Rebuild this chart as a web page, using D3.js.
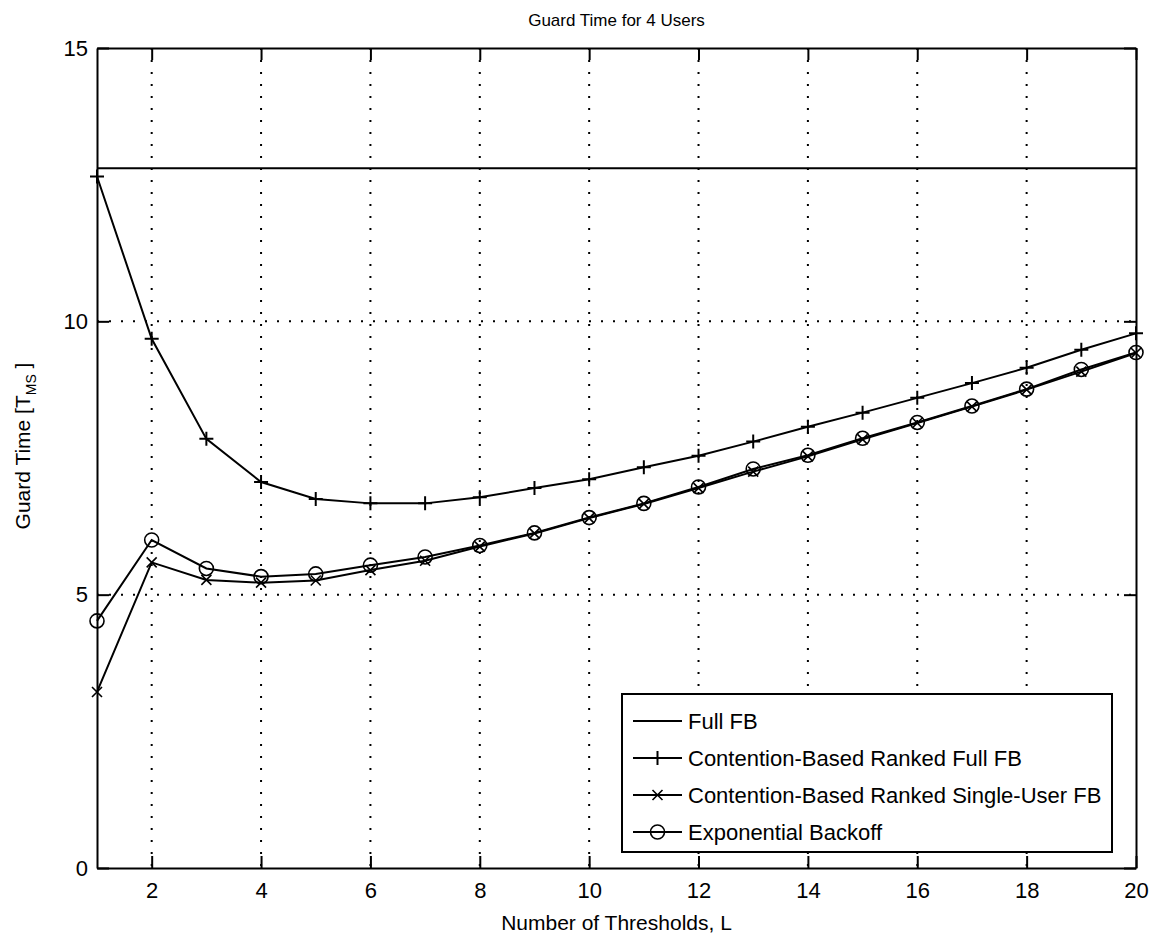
<!DOCTYPE html>
<html>
<head>
<meta charset="utf-8">
<script src="https://cdn.jsdelivr.net/npm/d3@7"></script>
<style>
  body { margin: 0; background: #fff; }
  text { font-family: 'Liberation Sans', Arial, sans-serif; fill: #000; }
</style>
</head>
<body>
<svg id="chart"></svg>
<script>
(function () {
  var width = 1151; var height = 942

  // data
  var thresholds = [1, 2, 3, 4, 5, 6, 7, 8, 9, 10, 11, 12, 13, 14, 15, 16, 17, 18, 19, 20]
  var fullFB = 12.8
  var rankedFullFB = [12.65, 9.68, 7.85, 7.06, 6.75, 6.67, 6.67, 6.78, 6.95, 7.11,
    7.33, 7.54, 7.80, 8.07, 8.33, 8.60, 8.87, 9.15, 9.48, 9.78]
  var rankedSingleFB = [3.22, 5.59, 5.27, 5.22, 5.26, 5.45, 5.62, 5.88, 6.12, 6.40,
    6.66, 6.95, 7.25, 7.53, 7.84, 8.14, 8.44, 8.75, 9.08, 9.42]
  var expBackoff = [4.52, 6.0, 5.48, 5.33, 5.38, 5.54, 5.69, 5.90, 6.13, 6.41,
    6.67, 6.97, 7.30, 7.55, 7.86, 8.15, 8.45, 8.76, 9.12, 9.43]
  var xTicks = [2, 4, 6, 8, 10, 12, 14, 16, 18, 20]
  var yTicks = [0, 5, 10, 15]
  var seriesNames = ['Full FB', 'Contention-Based Ranked Full FB',
    'Contention-Based Ranked Single-User FB', 'Exponential Backoff']

  var left = 97; var right = 1136; var top = 48; var bottom = 868

  var svg = d3.select('#chart')
    .attr('width', width)
    .attr('height', height)

  var xScale = d3.scaleLinear().domain([1, 20]).range([left, right])
  var yScale = d3.scaleLinear().domain([0, 15]).range([bottom, top])

  // dotted grid
  var grid = svg.append('g')
  grid.selectAll('.gx')
    .data(xTicks.filter(d => d < 20))
    .enter().append('line')
    .attr('x1', d => xScale(d)).attr('x2', d => xScale(d))
    .attr('y1', top).attr('y2', bottom)
  grid.selectAll('.gy')
    .data(yTicks.filter(d => d > 0 && d < 15))
    .enter().append('line')
    .attr('x1', left).attr('x2', right)
    .attr('y1', d => yScale(d)).attr('y2', d => yScale(d))
  grid.selectAll('line')
    .attr('stroke', '#000')
    .attr('stroke-width', 2)
    .attr('stroke-dasharray', '2,10')

  // axes, MATLAB style box with inward ticks
  var tick = 12
  svg.append('g')
    .attr('transform', 'translate(0,' + bottom + ')')
    .call(d3.axisBottom(xScale).tickValues(xTicks).tickSizeInner(-tick).tickSizeOuter(0).tickPadding(14))
  svg.append('g')
    .attr('transform', 'translate(0,' + top + ')')
    .call(d3.axisTop(xScale).tickValues(xTicks).tickSizeInner(-tick).tickSizeOuter(0).tickFormat(''))
  svg.append('g')
    .attr('transform', 'translate(' + left + ',0)')
    .call(d3.axisLeft(yScale).tickValues(yTicks).tickSizeInner(-tick).tickSizeOuter(0).tickPadding(9))
  svg.append('g')
    .attr('transform', 'translate(' + right + ',0)')
    .call(d3.axisRight(yScale).tickValues(yTicks).tickSizeInner(-tick).tickSizeOuter(0).tickFormat(''))
  svg.selectAll('.domain').attr('stroke', '#000').attr('stroke-width', 2)
  svg.selectAll('.tick line').attr('stroke', '#000').attr('stroke-width', 2)
  svg.selectAll('.tick text')
    .style('font-family', "'Liberation Sans', Arial, sans-serif")
    .style('font-size', '22px')
    .attr('fill', '#000')

  var line = d3.line()
    .x((d, i) => xScale(thresholds[i]))
    .y(d => yScale(d))

  var plot = svg.append('g')

  // Full FB horizontal line
  plot.append('line')
    .attr('x1', xScale(1)).attr('x2', xScale(20))
    .attr('y1', yScale(fullFB)).attr('y2', yScale(fullFB))
    .attr('stroke', '#000').attr('stroke-width', 2)

  function drawMarker (g, kind, x, y) {
    if (kind === 'plus') {
      g.append('path')
        .attr('d', 'M' + (x - 7) + ',' + y + 'H' + (x + 7) + 'M' + x + ',' + (y - 7) + 'V' + (y + 7))
        .attr('stroke', '#000').attr('stroke-width', 2).attr('fill', 'none')
    } else if (kind === 'cross') {
      g.append('path')
        .attr('d', 'M' + (x - 5) + ',' + (y - 5) + 'L' + (x + 5) + ',' + (y + 5) +
          'M' + (x - 5) + ',' + (y + 5) + 'L' + (x + 5) + ',' + (y - 5))
        .attr('stroke', '#000').attr('stroke-width', 1.6).attr('fill', 'none')
    } else if (kind === 'circle') {
      g.append('circle')
        .attr('cx', x).attr('cy', y).attr('r', 7)
        .attr('stroke', '#000').attr('stroke-width', 1.6).attr('fill', 'none')
    }
  }

  var series = [
    { values: rankedFullFB, marker: 'plus' },
    { values: rankedSingleFB, marker: 'cross' },
    { values: expBackoff, marker: 'circle' }
  ]

  series.forEach(s => {
    plot.append('path')
      .datum(s.values)
      .attr('d', line)
      .attr('fill', 'none')
      .attr('stroke', '#000')
      .attr('stroke-width', 2)
    s.values.forEach((v, i) => {
      drawMarker(plot, s.marker, xScale(thresholds[i]), yScale(v))
    })
  })

  // legend
  var lg = svg.append('g')
  lg.append('rect')
    .attr('x', 622).attr('y', 694)
    .attr('width', 490).attr('height', 158)
    .attr('fill', '#fff').attr('stroke', '#000').attr('stroke-width', 2)
  var markers = ['none', 'plus', 'cross', 'circle']
  seriesNames.forEach((name, i) => {
    var y = 721 + i * 37
    lg.append('line')
      .attr('x1', 633).attr('x2', 682)
      .attr('y1', y).attr('y2', y)
      .attr('stroke', '#000').attr('stroke-width', 2)
    drawMarker(lg, markers[i], 657.5, y)
    lg.append('text')
      .attr('x', 688).attr('y', y)
      .attr('dy', '0.36em')
      .style('font-size', '22px')
      .text(name)
  })

  // titles
  svg.append('text')
    .attr('x', (left + right) / 2).attr('y', 26)
    .attr('text-anchor', 'middle')
    .style('font-size', '17px')
    .text('Guard Time for 4 Users')

  svg.append('text')
    .attr('x', (left + right) / 2).attr('y', 930)
    .attr('text-anchor', 'middle')
    .style('font-size', '21px')
    .text('Number of Thresholds, L')

  var yl = svg.append('text')
    .attr('transform', 'translate(30,' + ((top + bottom) / 2 - 12) + ') rotate(-90)')
    .attr('text-anchor', 'middle')
    .style('font-size', '21px')
  yl.append('tspan').text('Guard Time [T')
  yl.append('tspan').attr('dy', 6).style('font-size', '14px').text('MS')
  yl.append('tspan').attr('dy', -6).text(' ]')
})()
</script>
</body>
</html>
